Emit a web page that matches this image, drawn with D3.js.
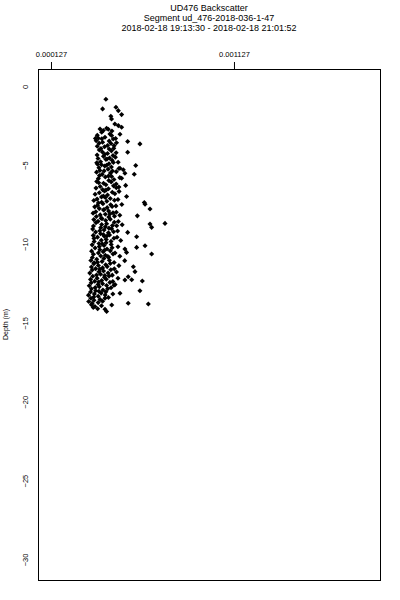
<!DOCTYPE html>
<html>
<head>
<meta charset="utf-8">
<script src="https://cdn.jsdelivr.net/npm/d3@7"></script>
<style>
  body { margin: 0; background: #fff; }
  svg { font-family: "Liberation Sans", Arial, sans-serif; }
  .axis path { display: none; }
</style>
</head>
<body>
<script>
//chart text
var titleLines = ["UD476 Backscatter",
                  "Segment ud_476-2018-036-1-47",
                  "2018-02-18 19:13:30 - 2018-02-18 21:01:52"];
var yTitle = "Depth (m)";

//tick values
var xTicks = [0.000127, 0.001127];
var yTicks = [0, -5, -10, -15, -20, -25, -30];

//depth of each sample (m)
var depth = [
  -0.82, -1.33, -1.43, -1.54, -1.79, -1.90, -2.07, -2.39, -2.49, -2.59,
  -2.66, -2.70, -2.72, -2.80, -2.83, -2.91, -3.02, -3.04, -3.10, -3.12,
  -3.23, -3.29, -3.30, -3.32, -3.31, -3.34, -3.45, -3.47, -3.50, -3.54,
  -3.60, -3.62, -3.58, -3.65, -3.75, -3.76, -3.80, -3.83, -3.95, -3.97, -3.93,
  -4.03, -4.16, -4.09, -4.21, -4.18, -4.35, -4.26, -4.38, -4.31,
  -4.57, -4.44, -4.61, -4.49, -4.78, -4.63, -4.69, -4.81, -4.54,
  -4.85, -4.97, -4.91, -4.83, -4.94, -5.02, -5.16, -5.05, -5.11, -5.21, -5.00,
  -5.19, -5.33, -5.25, -5.37, -5.29, -5.51, -5.44, -5.58, -5.49, -5.41, -5.57, -5.36,
  -5.66, -5.75, -5.71, -5.79, -5.85, -5.97, -5.91, -5.83, -6.03, -5.69,
  -6.14, -6.06, -6.19, -6.28, -6.35, -6.24, -6.31, -6.38, -6.11,
  -6.45, -6.55, -6.49, -6.43, -6.66, -6.75, -6.63, -6.71, -6.58,
  -6.84, -6.95, -6.89, -6.81, -6.98, -7.15, -7.04, -7.11, -7.17, -7.01,
  -7.24, -7.35, -7.29, -7.22, -7.36, -7.47, -7.55, -7.44, -7.51, -7.58, -7.49, -7.39,
  -7.64, -7.75, -7.69, -7.62, -7.78, -7.95, -7.84, -7.91, -7.98, -7.81,
  -8.04, -8.15, -8.11, -8.02, -8.17, -8.21, -8.25, -8.36, -8.29, -8.23, -8.09,
  -8.45, -8.56, -8.51, -8.43, -8.57, -8.69, -8.64, -8.76, -8.71, -8.62, -8.78, -8.73, -8.39,
  -8.84, -8.86, -8.96, -8.91, -8.83, -8.94, -8.99,
  -9.05, -9.16, -9.11, -9.03, -9.17, -9.26, -9.24, -9.35, -9.29, -9.22, -9.39,
  -9.45, -9.56, -9.51, -9.43, -9.57, -9.54, -9.64, -9.76, -9.71, -9.63, -9.77, -9.49,
  -9.84, -9.96, -9.91, -9.83, -10.05, -10.16, -10.09, -10.03, -10.17, -10.11, -10.21, -9.99,
  -10.25, -10.36, -10.31, -10.23, -10.32, -10.45, -10.56, -10.49, -10.43, -10.57, -10.53, -10.63, -10.39,
  -10.65, -10.76, -10.71, -10.63, -10.77, -10.85, -10.96, -10.91, -10.83, -10.79,
  -11.04, -11.16, -11.11, -11.03, -11.17, -11.05, -11.25, -11.36, -11.31, -11.23, -11.37, -11.44, -11.19,
  -11.45, -11.56, -11.51, -11.43, -11.57, -11.64, -11.76, -11.71, -11.63, -11.77, -11.75, -11.59,
  -11.84, -11.96, -11.91, -11.83, -11.97, -12.07, -12.04, -12.16, -12.11, -12.03, -12.17, -11.99,
  -12.28, -12.26, -12.24, -12.36, -12.31, -12.23, -12.37, -12.34, -12.41,
  -12.45, -12.56, -12.51, -12.43, -12.57, -12.64, -12.76, -12.71, -12.63, -12.77, -12.61,
  -12.84, -12.96, -12.91, -12.83, -12.96, -13.04, -13.16, -13.11, -13.03, -13.17, -13.12, -12.99,
  -13.24, -13.36, -13.31, -13.23, -13.44, -13.56, -13.51, -13.43, -13.39,
  -13.64, -13.76, -13.71, -13.63, -13.75, -13.80, -13.86, -13.84, -13.96, -13.91,
  -14.10, -14.13, -14.28, -14.02
];

//backscatter of each sample, in units of 1e-4
var backscatterE4 = [
  4.27, 4.82, 4.09, 4.95, 5.13, 4.54, 4.58, 4.76, 4.95, 5.13,
  4.31, 3.95, 4.40, 4.13, 4.60, 4.04, 4.49, 5.04, 3.80, 4.58,
  4.22, 3.86, 3.70, 4.05, 4.80, 4.67, 3.74, 4.45, 5.46, 4.09,
  3.90, 4.55, 4.85, 6.13, 4.36, 4.72, 3.80, 4.20, 4.00, 4.45, 4.70,
  3.91, 4.08, 4.57, 4.83, 5.46, 3.79, 4.36, 4.66, 4.21,
  3.84, 4.14, 4.33, 4.79, 3.98, 4.27, 4.61, 4.94, 4.47,
  3.77, 4.03, 4.44, 4.68, 3.82, 5.90, 3.89, 4.21, 4.57, 4.98, 4.31,
  5.04, 3.94, 4.39, 4.63, 5.22, 5.31, 3.76, 4.07, 4.52, 4.84, 5.82, 4.17,
  3.92, 4.24, 4.58, 5.03, 3.86, 4.43, 4.71, 5.13, 3.77, 4.41,
  4.14, 4.56, 4.83, 5.35, 3.96, 4.27, 4.69, 4.98, 3.88,
  3.73, 4.09, 4.41, 4.84, 4.99, 3.91, 4.19, 4.62, 4.27,
  3.68, 4.13, 4.36, 4.76, 5.40, 3.79, 4.24, 4.51, 4.93, 4.03,
  3.61, 4.04, 4.32, 4.74, 6.37, 6.41, 3.81, 4.11, 4.53, 4.82, 5.14, 3.86,
  3.66, 3.91, 4.34, 4.61, 6.68, 3.72, 4.14, 4.42, 4.84, 4.17,
  3.57, 3.96, 4.24, 4.66, 5.03, 5.99, 3.75, 4.01, 4.43, 4.74, 4.49,
  3.61, 3.84, 4.26, 4.51, 4.95, 7.50, 3.73, 4.04, 4.31, 4.73, 5.16, 6.68, 4.06,
  4.86, 3.59, 3.99, 4.24, 4.63, 6.77, 4.44,
  3.55, 3.94, 4.17, 4.58, 4.91, 5.46, 3.71, 3.98, 4.41, 4.69, 4.13,
  3.58, 3.81, 4.19, 4.47, 4.88, 5.95, 3.62, 4.02, 4.29, 4.71, 5.08, 4.33,
  3.63, 3.89, 4.28, 4.55, 3.52, 3.91, 4.17, 4.56, 4.93, 6.41, 5.95, 4.07,
  3.68, 3.94, 4.33, 4.61, 5.31, 3.49, 3.86, 4.12, 4.51, 4.77, 5.40, 6.77, 4.19,
  3.59, 3.99, 4.24, 4.66, 5.03, 3.53, 3.77, 4.16, 4.42, 4.37,
  3.45, 3.81, 4.06, 4.46, 4.72, 5.30, 3.61, 3.86, 4.26, 4.51, 4.98, 5.77, 3.63,
  3.48, 3.71, 4.09, 4.34, 4.73, 3.52, 3.89, 4.14, 4.54, 4.85, 5.86, 3.94,
  3.39, 3.76, 3.98, 4.39, 4.62, 5.49, 3.55, 3.79, 4.19, 4.44, 4.93, 4.21,
  5.31, 5.68, 3.43, 3.66, 4.04, 4.29, 4.65, 6.26, 3.88,
  3.47, 3.84, 4.09, 4.49, 4.77, 3.36, 3.69, 3.91, 4.31, 4.55, 4.71,
  3.48, 3.71, 4.11, 4.37, 6.13, 3.43, 3.64, 4.01, 4.27, 4.65, 5.04, 3.89,
  3.32, 3.61, 3.85, 4.23, 3.45, 3.62, 3.95, 4.22, 4.41,
  3.33, 3.52, 3.85, 4.09, 5.49, 6.59, 4.59, 3.48, 3.67, 4.03,
  3.82, 4.22, 4.31, 3.58
];

//svg size and plot box
var width = 400,
    height = 600,
    box = {left: 38, right: 380, top: 69, bottom: 580};

var svg = d3.select("body")
    .append("svg")
    .attr("width", width)
    .attr("height", height);

//scales
var x = d3.scaleLinear()
    .domain([0.000056, 0.001925])
    .range([box.left, box.right]);

var y = d3.scaleLinear()
    .domain([-31.3, 1.1])
    .range([box.bottom, box.top]);

//title lines
svg.selectAll(".title")
    .data(titleLines)
    .enter()
    .append("text")
    .attr("class", "title")
    .attr("x", 209)
    .attr("y", function(d, i){ return 10.5 + i * 10.3; })
    .attr("text-anchor", "middle")
    .style("font-size", "9px")
    .text(function(d){ return d; });

//top axis
var xAxis = svg.append("g")
    .attr("class", "axis")
    .attr("transform", "translate(0," + box.top + ")")
    .call(d3.axisTop(x)
        .tickValues(xTicks)
        .tickFormat(d3.format(".6f"))
        .tickSize(7)
        .tickPadding(5));
xAxis.selectAll("text")
    .style("font-size", "7.5px")
    .attr("fill", "#000")
    .attr("font-family", "Liberation Sans, Arial, sans-serif");
xAxis.selectAll("line").attr("stroke", "#000");

//left axis, labels turned sideways
var yAxis = svg.append("g")
    .attr("class", "axis")
    .attr("transform", "translate(" + box.left + ",0)")
    .call(d3.axisLeft(y)
        .tickValues(yTicks)
        .tickFormat(d3.format("d"))
        .tickSize(0));
yAxis.selectAll("text")
    .attr("transform", "rotate(-90)")
    .attr("x", 0)
    .attr("y", -10.5)
    .attr("dy", 0)
    .attr("text-anchor", "middle")
    .style("font-size", "7.5px")
    .attr("fill", "#000")
    .attr("font-family", "Liberation Sans, Arial, sans-serif");

//y axis title
svg.append("text")
    .attr("transform", "translate(8," + (box.top + box.bottom) / 2 + ") rotate(-90)")
    .attr("text-anchor", "middle")
    .style("font-size", "7px")
    .text(yTitle);

//plot frame
svg.append("rect")
    .attr("x", box.left)
    .attr("y", box.top)
    .attr("width", box.right - box.left)
    .attr("height", box.bottom - box.top)
    .attr("fill", "none")
    .attr("stroke", "#000")
    .attr("stroke-width", 1)
    .attr("shape-rendering", "crispEdges");

//samples as filled diamonds
var diamond = d3.symbol().type(d3.symbolSquare).size(13);

svg.selectAll(".pt")
    .data(depth)
    .enter()
    .append("path")
    .attr("class", "pt")
    .attr("d", diamond)
    .attr("transform", function(d, i){
        return "translate(" + x(backscatterE4[i] * 1e-4) + "," + y(d) + ") rotate(45)";
    })
    .attr("fill", "#000");
</script>
</body>
</html>
